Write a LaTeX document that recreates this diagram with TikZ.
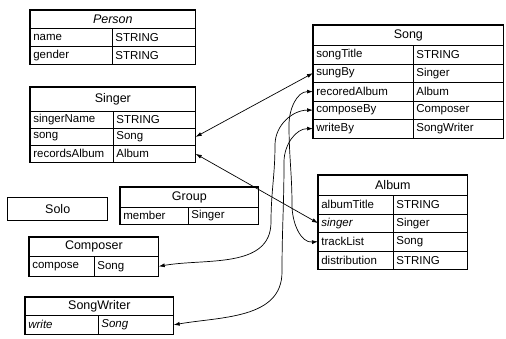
\documentclass[tikz,border=0pt]{standalone}
\usepackage{fontspec}
\setmainfont{Liberation Sans}
\usetikzlibrary{arrows.meta}
\begin{document}
\begin{tikzpicture}[x=1pt, y=-1pt,
        tabtitle/.style={draw, line width=.7pt, anchor=north west, inner sep=0pt, font=\fontsize{12.5}{14}\selectfont},
        cell/.style={draw, line width=.7pt, anchor=north west, inner xsep=3pt, inner ysep=0pt, align=left, font=\fontsize{11.5}{13}\selectfont},
        tabframe/.style={line width=1.4pt},
        link/.style={{Latex[length=6pt,width=4pt]}-{Latex[length=6pt,width=4pt]}, line width=.7pt}]
        \useasboundingbox (0,0) rectangle (506,338);
        % Person
        \node[tabtitle, minimum width=165pt, minimum height=18pt] (person) at (30,10) {\itshape Person};
        \node[cell, text width=76pt, minimum height=18pt] (person-name-k) at (30,28) {name};
        \node[cell, text width=77pt, minimum height=18pt] (person-name-t) at (112,28) {STRING};
        \node[cell, text width=76pt, minimum height=18pt] (person-gender-k) at (30,46) {gender};
        \node[cell, text width=77pt, minimum height=18pt] (person-gender-t) at (112,46) {STRING};
        \draw[tabframe] (person.north west) rectangle (person-gender-t.south east);
        % Singer
        \node[tabtitle, minimum width=165pt, minimum height=24pt] (singer) at (30,87) {Singer};
        \node[cell, text width=77pt, minimum height=17pt] (singer-name-k) at (30,111) {singerName};
        \node[cell, text width=76pt, minimum height=17pt] (singer-name-t) at (113,111) {STRING};
        \node[cell, text width=77pt, minimum height=17pt] (singer-song-k) at (30,128) {song};
        \node[cell, text width=76pt, minimum height=17pt] (singer-song-t) at (113,128) {Song};
        \node[cell, text width=77pt, minimum height=17pt] (singer-album-k) at (30,145) {recordsAlbum};
        \node[cell, text width=76pt, minimum height=17pt] (singer-album-t) at (113,145) {Album};
        \draw[tabframe] (singer.north west) rectangle (singer-album-t.south east);
        % Song
        \node[tabtitle, minimum width=190pt, minimum height=20pt] (song) at (313,25) {Song};
        \node[cell, text width=94pt, minimum height=18.5pt] (song-title-k) at (313,45) {songTitle};
        \node[cell, text width=84pt, minimum height=18.5pt] (song-title-t) at (413,45) {STRING};
        \node[cell, text width=94pt, minimum height=18.5pt] (song-sungBy-k) at (313,63.5) {sungBy};
        \node[cell, text width=84pt, minimum height=18.5pt] (song-sungBy-t) at (413,63.5) {Singer};
        \node[cell, text width=94pt, minimum height=18.5pt] (song-album-k) at (313,82) {recoredAlbum};
        \node[cell, text width=84pt, minimum height=18.5pt] (song-album-t) at (413,82) {Album};
        \node[cell, text width=94pt, minimum height=18.5pt] (song-compose-k) at (313,100.5) {composeBy};
        \node[cell, text width=84pt, minimum height=18.5pt] (song-compose-t) at (413,100.5) {Composer};
        \node[cell, text width=94pt, minimum height=18.5pt] (song-write-k) at (313,119) {writeBy};
        \node[cell, text width=84pt, minimum height=18.5pt] (song-write-t) at (413,119) {SongWriter};
        \draw[tabframe] (song.north west) rectangle (song-write-t.south east);
        % Album
        \node[tabtitle, minimum width=149pt, minimum height=20pt] (album) at (318,175) {Album};
        \node[cell, text width=69pt, minimum height=18.5pt] (album-title-k) at (318,195) {albumTitle};
        \node[cell, text width=68pt, minimum height=18.5pt] (album-title-t) at (393,195) {STRING};
        \node[cell, text width=69pt, minimum height=18.5pt] (album-singer-k) at (318,213.5) {\itshape singer};
        \node[cell, text width=68pt, minimum height=18.5pt] (album-singer-t) at (393,213.5) {Singer};
        \node[cell, text width=69pt, minimum height=18.5pt] (album-track-k) at (318,232) {trackList};
        \node[cell, text width=68pt, minimum height=18.5pt] (album-track-t) at (393,232) {Song};
        \node[cell, text width=69pt, minimum height=18.5pt] (album-dist-k) at (318,250.5) {distribution};
        \node[cell, text width=68pt, minimum height=18.5pt] (album-dist-t) at (393,250.5) {STRING};
        \draw[tabframe] (album.north west) rectangle (album-dist-t.south east);
        % Group
        \node[tabtitle, minimum width=138pt, minimum height=20pt] (group) at (120,187) {Group};
        \node[cell, text width=62pt, minimum height=17pt] (group-member-k) at (120,207) {member};
        \node[cell, text width=64pt, minimum height=17pt] (group-member-t) at (188,207) {Singer};
        \draw[tabframe] (group.north west) rectangle (group-member-t.south east);
        % Solo
        \node[tabtitle, tabframe, minimum width=100pt, minimum height=23pt] (solo) at (7,197) {Solo};
        % Composer
        \node[tabtitle, minimum width=129pt, minimum height=19pt] (composer) at (29,237) {Composer};
        \node[cell, text width=59pt, minimum height=20pt] (composer-song-k) at (29,256) {compose};
        \node[cell, text width=58pt, minimum height=20pt] (composer-song-t) at (94,256) {Song};
        \draw[tabframe] (composer.north west) rectangle (composer-song-t.south east);
        % SongWriter
        \node[tabtitle, minimum width=148pt, minimum height=18pt] (writer) at (25,297) {SongWriter};
        \node[cell, text width=67pt, minimum height=19pt] (writer-song-k) at (25,315) {\itshape write};
        \node[cell, text width=69pt, minimum height=19pt] (writer-song-t) at (98,315) {\itshape Song};
        \draw[tabframe] (writer.north west) rectangle (writer-song-t.south east);
        % links
        \draw[link] (singer-song-t.east) -- (song-sungBy-k.west);
        \draw[link] (singer-album-t.east) -- (album-singer-k.west);
        \draw[link] (album-track-k.west) to[out=185,in=-90] (292,205) to[out=90,in=-90] (289,125) to[out=90,in=180] (song-album-k.west);
        \draw[link] (composer-song-t.east) to[out=10,in=-90] (271,222) to[out=90,in=-90] (275,145) to[out=90,in=180] (song-compose-k.west);
        \draw[link] (writer-song-t.east) to[out=10,in=-90] (282,272) to[out=90,in=-90] (284,162) to[out=90,in=180] (song-write-k.west);
    \end{tikzpicture}
\end{document}
